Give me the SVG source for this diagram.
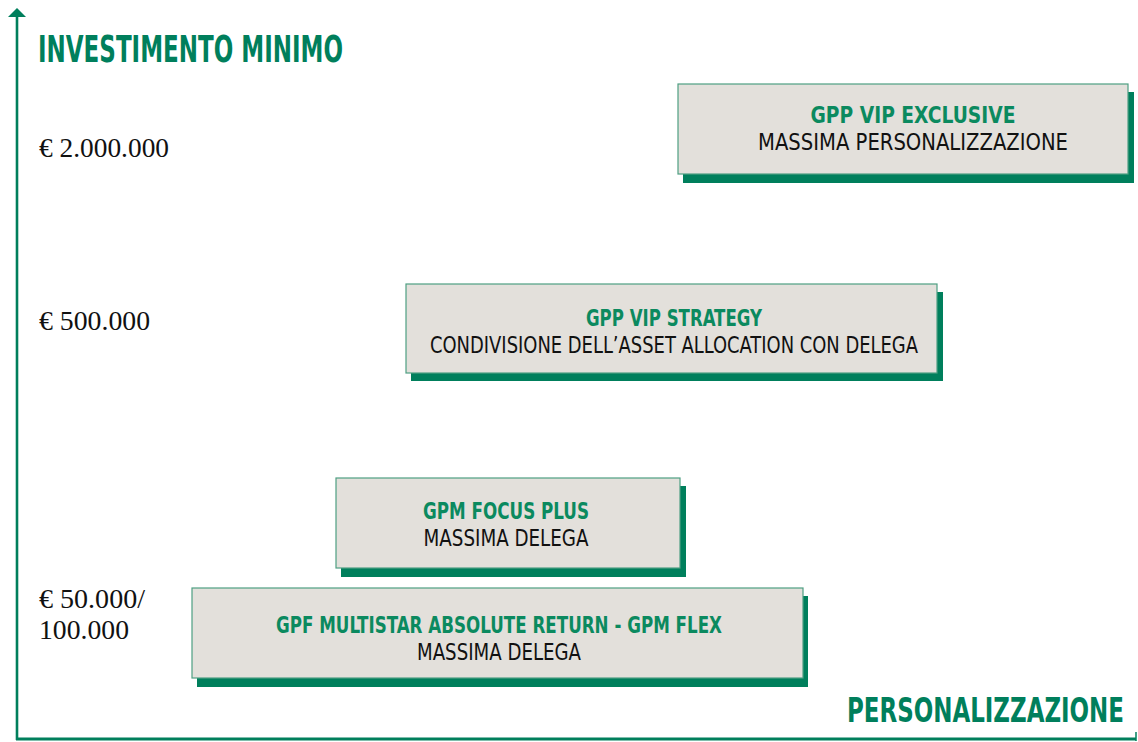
<svg xmlns="http://www.w3.org/2000/svg" width="1138" height="742" viewBox="0 0 1138 742">
<style>
.box{fill:#E3E0DB;stroke:#4E9F82;stroke-width:1.2}
.shadow{fill:#007F5C}
.t{font-family:"Liberation Sans Narrow","DejaVu Sans Condensed","Liberation Sans",sans-serif;font-weight:bold;fill:#0B8A5F;font-size:23px}
.s{font-family:"Liberation Sans Narrow","DejaVu Sans Condensed","Liberation Sans",sans-serif;fill:#111;font-size:23px}
.ax{font-family:"Liberation Sans Narrow","DejaVu Sans Condensed","Liberation Sans",sans-serif;font-weight:bold;fill:#007F5C}
.v{font-family:"Liberation Serif","Times New Roman",serif;font-size:27px;fill:#111}
</style>
<rect width="1138" height="742" fill="#ffffff"/>
<g id="axes">
<line x1="17" y1="16" x2="17" y2="740" stroke="#007F5C" stroke-width="2.6"/>
<polygon points="8,17 26,17 17,8" fill="#007F5C"/>
<line x1="16" y1="739" x2="1136" y2="739" stroke="#007F5C" stroke-width="3"/>
<line x1="1136" y1="732" x2="1136" y2="741" stroke="#007F5C" stroke-width="1.5"/>
<text class="ax" x="38" y="62" font-size="38" textLength="305" lengthAdjust="spacingAndGlyphs">INVESTIMENTO MINIMO</text>
<text class="ax" x="847" y="722" font-size="26" transform="translate(847 722) scale(1 1.3) translate(-847 -722)" textLength="277" lengthAdjust="spacingAndGlyphs">PERSONALIZZAZIONE</text>
</g>
<g id="values">
<text class="v" x="39" y="157" textLength="130" lengthAdjust="spacingAndGlyphs">€ 2.000.000</text>
<text class="v" x="39" y="330" textLength="111" lengthAdjust="spacingAndGlyphs">€ 500.000</text>
<text class="v" x="39" y="608" textLength="106" lengthAdjust="spacingAndGlyphs">€ 50.000/</text>
<text class="v" x="39" y="639" textLength="90" lengthAdjust="spacingAndGlyphs">100.000</text>
</g>
<g id="node-exclusive">
<rect class="shadow" x="683" y="92" width="451" height="91"/>
<rect class="box" x="678" y="84" width="450" height="90"/>
<text class="t" x="913" y="123" text-anchor="middle" textLength="205" lengthAdjust="spacingAndGlyphs">GPP VIP EXCLUSIVE</text>
<text class="s" x="913" y="150" text-anchor="middle" textLength="310" lengthAdjust="spacingAndGlyphs">MASSIMA PERSONALIZZAZIONE</text>
</g>
<g id="node-strategy">
<rect class="shadow" x="411" y="292" width="532" height="89"/>
<rect class="box" x="406" y="284" width="531" height="89"/>
<text class="t" x="674" y="326" text-anchor="middle" textLength="176" lengthAdjust="spacingAndGlyphs">GPP VIP STRATEGY</text>
<text class="s" x="674" y="353" text-anchor="middle" textLength="488" lengthAdjust="spacingAndGlyphs">CONDIVISIONE DELL’ASSET ALLOCATION CON DELEGA</text>
</g>
<g id="node-focus">
<rect class="shadow" x="341" y="486" width="345" height="91"/>
<rect class="box" x="336" y="478" width="344" height="90"/>
<text class="t" x="506" y="519" text-anchor="middle" textLength="166" lengthAdjust="spacingAndGlyphs">GPM FOCUS PLUS</text>
<text class="s" x="506" y="546" text-anchor="middle" textLength="165" lengthAdjust="spacingAndGlyphs">MASSIMA DELEGA</text>
</g>
<g id="node-multistar">
<rect class="shadow" x="197" y="596" width="611" height="91"/>
<rect class="box" x="192" y="588" width="611" height="90"/>
<text class="t" x="499" y="633" text-anchor="middle" textLength="446" lengthAdjust="spacingAndGlyphs">GPF MULTISTAR ABSOLUTE RETURN - GPM FLEX</text>
<text class="s" x="499" y="660" text-anchor="middle" textLength="164" lengthAdjust="spacingAndGlyphs">MASSIMA DELEGA</text>
</g>
</svg>
